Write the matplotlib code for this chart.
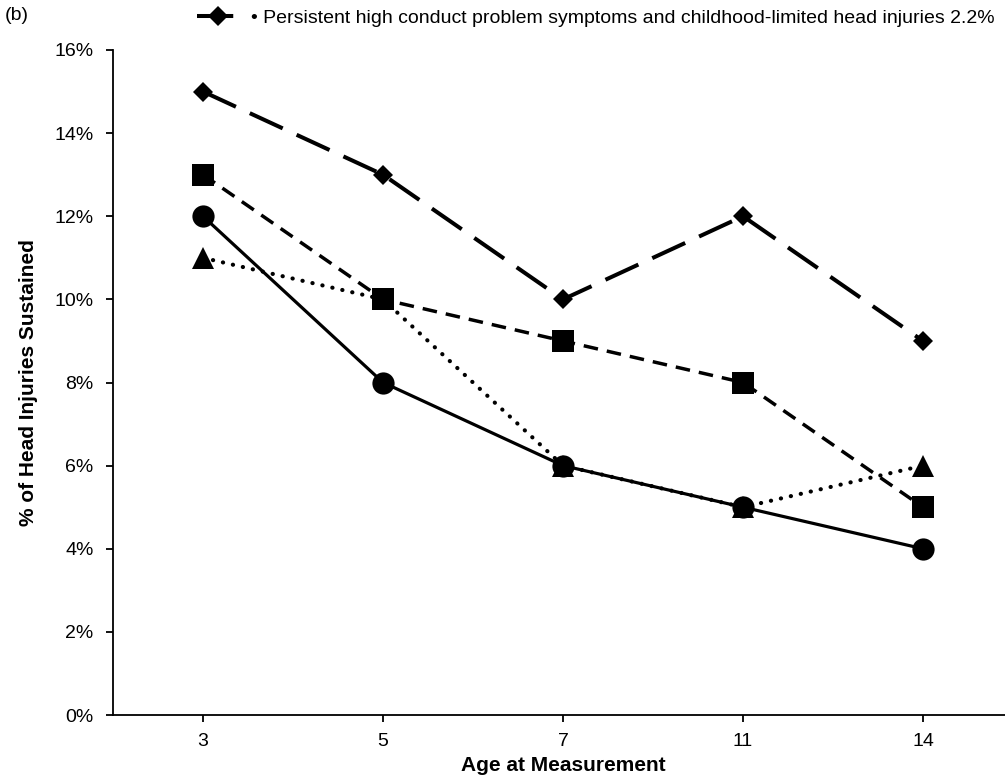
import matplotlib
matplotlib.use("Agg")
import matplotlib.pyplot as plt
from matplotlib.ticker import FuncFormatter

plt.rcParams["font.family"] = ["Liberation Sans", "DejaVu Sans"]

ages = ["3", "5", "7", "11", "14"]
persistent_childhood = [15, 13, 10, 12, 9]   # diamonds, long dash
series_square = [13, 10, 9, 8, 5]            # squares, dashed
series_circle = [12, 8, 6, 5, 4]             # circles, solid
series_triangle = [11, 10, 6, 5, 6]          # triangles, dotted
legend_label = ("\u2022 Persistent high conduct problem symptoms and "
                "childhood-limited head injuries 2.2%")

fig = plt.figure(figsize=(10.05, 7.79), dpi=100)
ax = fig.add_axes([113 / 1005, 1 - 715 / 779, 900 / 1005, 665 / 779])

x = range(len(ages))

ax.plot(x, series_triangle, color="black", lw=3, linestyle=(0, (0.05, 2.4)),
        dash_capstyle="round", marker="^", markersize=16, mew=0, zorder=3)
ax.plot(x, series_circle, color="black", lw=2.3, linestyle="-",
        marker="o", markersize=16, mew=0, zorder=4)
ax.plot(x, series_square, color="black", lw=2.5, linestyle=(0, (4.2, 2.6)),
        marker="s", markersize=15.5, mew=0, zorder=5)
diamond_line, = ax.plot(x, persistent_childhood, color="black", lw=2.9,
                        linestyle=(0, (9, 3.8)), marker="D", markersize=10,
                        mew=0, zorder=6)

ax.set_xlim(-0.5, 4.5)
ax.set_ylim(0, 16)
ax.set_xticks(list(x))
ax.set_xticklabels(ages)
ax.set_yticks(range(0, 17, 2))
ax.yaxis.set_major_formatter(FuncFormatter(lambda v, p: f"{v:.0f}%"))

for side in ["top", "right"]:
    ax.spines[side].set_visible(False)
for side in ["left", "bottom"]:
    ax.spines[side].set_linewidth(1.3)

ax.tick_params(axis="both", direction="out", length=5, width=1.3,
               labelsize=14, colors="black")
ax.tick_params(axis="x", pad=8)
ax.tick_params(axis="y", pad=9)

ax.set_xlabel("Age at Measurement", fontsize=15, fontweight="bold", labelpad=4)
ax.set_ylabel("% of Head Injuries Sustained", fontsize=15, fontweight="bold",
              labelpad=12)

fig.text(5 / 1005, 1 - 16 / 779, "(b)", fontsize=14, va="center", ha="left")

fig.legend([diamond_line], [legend_label], loc="center left",
           bbox_to_anchor=(187 / 1005, 1 - 18 / 779), frameon=False,
           fontsize=14, handlelength=2.2, handletextpad=0.6, borderpad=0)

fig.savefig("out.png", dpi=100)
